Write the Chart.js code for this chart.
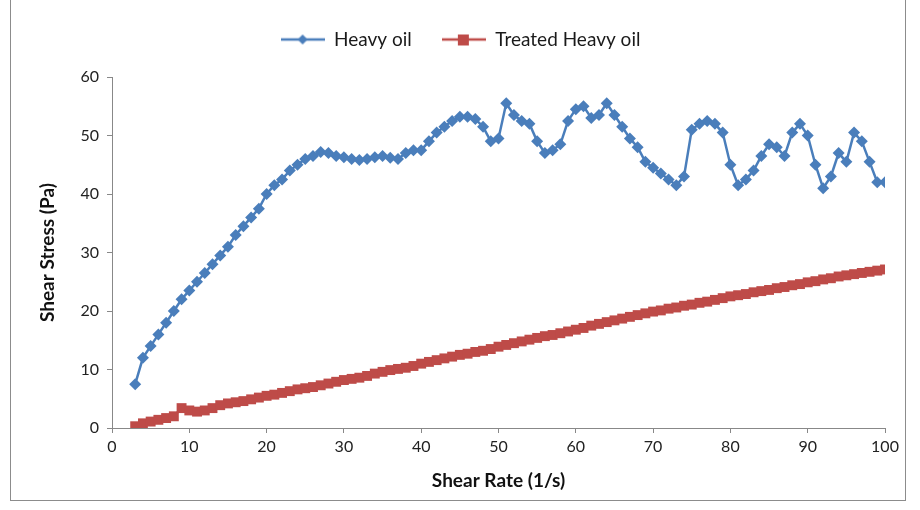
<!DOCTYPE html>
<html>
<head>
<meta charset="utf-8">
<script src="https://cdn.jsdelivr.net/npm/chart.js@4.4.0/dist/chart.umd.min.js"></script>
<style>
  html, body { margin: 0; padding: 0; background: #fff; }
  #wrap { position: relative; width: 920px; height: 510px; }
  #frame { position: absolute; left: 10px; top: -2px; width: 896px; height: 503px; border: 1px solid #8c8c8c; box-sizing: border-box; }
  canvas { position: absolute; left: 0; top: 0; }
</style>
</head>
<body>
<div id="wrap">
  <div id="frame"></div>
  <canvas id="myChart" width="920" height="510"></canvas>
</div>
<script>
  // Dados
  var shearRate = [3,4,5,6,7,8,9,10,11,12,13,14,15,16,17,18,19,20,21,22,23,24,25,26,27,28,29,30,
    31,32,33,34,35,36,37,38,39,40,41,42,43,44,45,46,47,48,49,50,51,52,53,54,55,56,57,58,59,60,
    61,62,63,64,65,66,67,68,69,70,71,72,73,74,75,76,77,78,79,80,81,82,83,84,85,86,87,88,89,90,
    91,92,93,94,95,96,97,98,99,100];

  var heavyOil = [7.5,12,14,16,18,20,22,23.5,25,26.5,28,29.5,31,33,34.5,36,37.5,40,41.5,42.5,44,45,46,46.5,47.2,47,46.5,46.3,
    46,45.8,46,46.3,46.5,46.2,46,47,47.5,47.5,49,50.5,51.5,52.5,53.2,53.2,52.8,51.5,49,49.5,55.5,53.5,52.5,52,49,47,47.5,48.5,52.5,54.5,
    55,53,53.5,55.5,53.5,51.5,49.5,48,45.5,44.5,43.5,42.5,41.5,43,51,52,52.5,52,50.5,45,41.5,42.5,44,46.5,48.5,48,46.5,50.5,52,50,
    45,41,43,47,45.5,50.5,49,45.5,42,42];

  var treatedOil = [0.3,0.8,1.1,1.4,1.7,2.0,3.4,3.0,2.8,3.0,3.4,3.9,4.2,4.4,4.6,4.9,5.2,5.5,5.7,6.0,6.3,6.6,6.8,7.0,7.3,7.6,7.9,8.2,
    8.4,8.6,8.9,9.3,9.6,9.9,10.1,10.3,10.6,11.0,11.3,11.6,11.9,12.2,12.5,12.7,13.0,13.2,13.5,13.9,14.2,14.5,14.8,15.1,15.4,15.7,15.9,16.2,16.5,16.8,
    17.1,17.5,17.8,18.1,18.4,18.7,19.0,19.3,19.6,19.9,20.1,20.4,20.6,20.9,21.1,21.4,21.6,21.9,22.2,22.5,22.7,22.9,23.2,23.4,23.6,23.9,24.1,24.4,24.6,24.9,
    25.1,25.4,25.6,25.9,26.1,26.3,26.5,26.7,26.9,27.1];

  var blue = '#4a7ebb';
  var red = '#be4b48';
  var fontFamily = 'Lato, "Open Sans", sans-serif';

  function pontos(xs, ys) {
    return xs.map(function (x, i) { return { x: x, y: ys[i] }; });
  }

  // ícone da legenda: linha com marcador no meio
  function iconeLegenda(cor, estilo) {
    var c = document.createElement('canvas');
    c.width = 44; c.height = 14;
    var g = c.getContext('2d');
    g.strokeStyle = cor; g.lineWidth = 2.5;
    g.beginPath(); g.moveTo(0, 7); g.lineTo(44, 7); g.stroke();
    g.fillStyle = cor;
    if (estilo === 'diamond') {
      g.beginPath(); g.moveTo(22, 2); g.lineTo(27, 7); g.lineTo(22, 12); g.lineTo(17, 7); g.closePath(); g.fill();
    } else {
      g.fillRect(16, 2, 11, 11);
    }
    return c;
  }
  var icones = [iconeLegenda(blue, 'diamond'), iconeLegenda(red, 'square')];

  // espaço extra entre a legenda e a área do gráfico
  var legendGap = {
    id: 'legendGap',
    beforeInit: function (chart) {
      var fit = chart.legend.fit;
      chart.legend.fit = function () {
        fit.call(this);
        this.height += 18;
      };
    }
  };

  var ctx = document.getElementById('myChart').getContext('2d');
  var myChart = new Chart(ctx, {
    type: 'scatter',
    data: {
      datasets: [{
        label: 'Heavy oil',
        data: pontos(shearRate, heavyOil),
        showLine: true,
        borderColor: blue,
        backgroundColor: blue,
        borderWidth: 2.5,
        pointStyle: 'rectRot',
        pointRadius: 6,
        pointBorderWidth: 0
      }, {
        label: 'Treated Heavy oil',
        data: pontos(shearRate, treatedOil),
        showLine: true,
        borderColor: red,
        backgroundColor: red,
        borderWidth: 2.5,
        pointStyle: 'rect',
        pointRadius: 7,
        pointBorderWidth: 0
      }]
    },
    options: {
      responsive: false,
      animation: false,
      layout: { padding: { left: 36, right: 35, top: 0, bottom: 14 } },
      plugins: {
        tooltip: { enabled: false },
        legend: {
          position: 'top',
          labels: {
            usePointStyle: true,
            pointStyleWidth: 44,
            padding: 30,
            color: '#1a1a1a',
            font: { family: fontFamily, size: 19 },
            generateLabels: function (chart) {
              var labels = Chart.defaults.plugins.legend.labels.generateLabels(chart);
              labels.forEach(function (l, i) { l.pointStyle = icones[i]; });
              return labels;
            }
          }
        }
      },
      scales: {
        x: {
          type: 'linear',
          min: 0, max: 100,
          ticks: { stepSize: 10, color: '#222', padding: 4, font: { family: fontFamily, size: 16 } },
          grid: { drawOnChartArea: false, drawTicks: true, tickLength: 5, color: '#888' },
          border: { color: '#888' },
          title: { display: true, text: 'Shear Rate (1/s)', color: '#111', padding: { top: 6 }, font: { family: fontFamily, size: 19, weight: 'bold' } },
          afterFit: function (axis) { axis.height = 68; }
        },
        y: {
          min: 0, max: 60,
          ticks: { stepSize: 10, color: '#222', padding: 8, font: { family: fontFamily, size: 16 } },
          grid: { drawOnChartArea: false, drawTicks: true, tickLength: 5, color: '#888' },
          border: { color: '#888' },
          title: { display: true, text: 'Shear Stress (Pa)', color: '#111', padding: 0, font: { family: fontFamily, size: 19, weight: 'bold' } },
          afterFit: function (axis) { axis.width = 76; }
        }
      }
    },
    plugins: [legendGap]
  });
</script>
</body>
</html>
